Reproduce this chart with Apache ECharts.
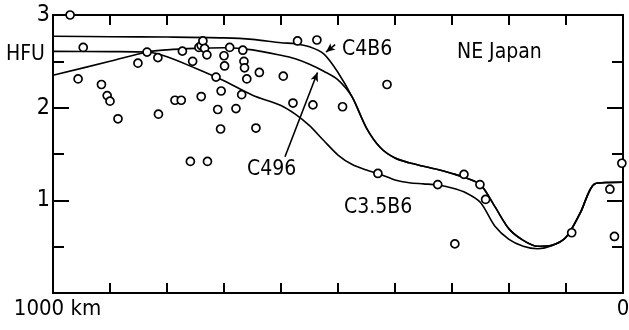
<!DOCTYPE html>
<html>
<head>
<meta charset="utf-8">
<script src="https://cdn.jsdelivr.net/npm/echarts@6/dist/echarts.min.js"></script>
<style>
  html, body { margin: 0; padding: 0; background: #fff; }
  #chart { width: 629px; height: 330px; }
</style>
</head>
<body>
<div id="chart"></div>
<script>
// observed heat flow, distance from trench (km) / HFU
const obsDist = [970, 947, 956, 915, 905, 900, 886, 851, 835, 816, 815, 786, 775, 773, 759, 755,
  744, 740, 737, 734, 730, 740, 729, 714, 711, 705, 706, 700, 699, 690, 679, 669, 667, 665, 664,
  660, 644, 638, 596, 579, 571, 544, 537, 492, 414, 430, 325, 279, 251, 241, 295, 90, 23, 15, 2];
const obsHfu = [3.00, 2.65, 2.31, 2.25, 2.13, 2.07, 1.88, 2.48, 2.60, 2.54, 1.93, 2.08, 2.08, 2.61, 1.42, 2.50,
  2.65, 2.67, 2.72, 2.64, 2.57, 2.12, 1.42, 2.33, 1.98, 2.18, 1.77, 2.56, 2.45, 2.65, 1.99, 2.14, 2.62, 2.50, 2.43,
  2.31, 1.78, 2.38, 2.34, 2.05, 2.72, 2.03, 2.73, 2.01, 2.25, 1.29, 1.17, 1.28, 1.17, 1.01, 0.53, 0.65, 1.12, 0.61, 1.40];

// model curves
const c4b6Dist = [1000, 900, 800, 700, 650, 600, 575, 550, 525, 500, 475, 450, 425, 400, 375, 350, 325, 300,
  275, 250, 225, 200, 175, 150, 125, 100, 75, 50, 25, 0];
const c4b6Hfu = [2.77, 2.766, 2.762, 2.753, 2.737, 2.70, 2.69, 2.657, 2.58, 2.38, 2.113, 1.78, 1.564, 1.456, 1.405, 1.368, 1.333, 1.29,
  1.241, 1.17, 0.935, 0.692, 0.568, 0.504, 0.515, 0.601, 0.864, 1.177, 1.193, 1.195];

const c496Dist = [1000, 900, 835, 800, 750, 700, 650, 600, 575, 550, 525, 500, 475, 450, 425, 400, 375, 350, 325, 300,
  275, 250, 225, 200, 175, 150, 125, 100, 75, 50, 25, 0];
const c496Hfu = [2.35, 2.50, 2.60, 2.624, 2.64, 2.646, 2.624, 2.565, 2.527, 2.468, 2.393, 2.30, 2.113, 1.78, 1.564, 1.456, 1.405, 1.368, 1.333, 1.29,
  1.241, 1.17, 0.935, 0.692, 0.568, 0.504, 0.515, 0.601, 0.864, 1.177, 1.193, 1.195];

const c35b6Dist = [1000, 900, 835, 800, 750, 700, 650, 600, 575, 550, 525, 500, 475, 450, 425, 400, 375, 350, 325, 300,
  275, 250, 225, 200, 175, 150, 125, 100, 75, 50, 25, 0];
const c35b6Hfu = [2.608, 2.605, 2.60, 2.549, 2.425, 2.29, 2.135, 2.024, 1.93, 1.806, 1.645, 1.489, 1.386, 1.327, 1.279, 1.22, 1.19, 1.178, 1.165, 1.133,
  1.08, 0.977, 0.724, 0.579, 0.504, 0.477, 0.51, 0.601, 0.864, 1.177, 1.193, 1.195];

const yTicks = [1, 2, 3];

const font = 'DejaVu Sans Condensed';
function pairs(xs, ys) { return xs.map((x, i) => [x, ys[i]]); }

document.addEventListener('DOMContentLoaded', function() {
  const chart = echarts.init(document.getElementById('chart'));

  const frameX = {
    type: 'value', min: 0, max: 1000, interval: 100, inverse: true,
    axisLine: { onZero: false, lineStyle: { color: '#000', width: 2 } },
    axisTick: { inside: true, length: 10, lineStyle: { color: '#000', width: 2 } },
    splitLine: { show: false }
  };
  const frameY = {
    type: 'value', min: 0, max: 3, interval: 1,
    axisLine: { show: true, onZero: false, lineStyle: { color: '#000', width: 2 } },
    axisTick: { inside: true, length: 16, lineStyle: { color: '#000', width: 2 } },
    minorTick: { show: true, splitNumber: 2, length: 11, lineStyle: { color: '#000', width: 2 } },
    splitLine: { show: false }
  };

  const curveLine = { color: '#000', width: 1.6 };

  const option = {
    animation: false,
    backgroundColor: '#fff',
    grid: { left: 53, right: 6, top: 15, bottom: 37, containLabel: false, outerBoundsMode: 'none' },
    xAxis: [
      Object.assign({}, frameX, {
        position: 'bottom',
        axisLabel: {
          color: '#000', fontFamily: font, fontSize: 22, margin: 5,
          showMinLabel: true, showMaxLabel: true,
          formatter: v => v === 1000 ? '{far|1000 km}' : (v === 0 ? '0' : ''),
          rich: { far: { fontFamily: font, fontSize: 22, color: '#000', padding: [0, 0, 0, 9] } }
        }
      }),
      Object.assign({}, frameX, { position: 'top', axisLabel: { show: false } })
    ],
    yAxis: [
      Object.assign({}, frameY, {
        position: 'left',
        axisLabel: {
          color: '#000', fontFamily: font, fontSize: 23, margin: 3,
          formatter: v => yTicks.includes(v) ? String(v) : ''
        }
      }),
      Object.assign({}, frameY, { position: 'right', axisLabel: { show: false } })
    ],
    series: [
      {
        name: 'C4B6', type: 'line', smooth: 0.3, symbol: 'none',
        lineStyle: curveLine, data: pairs(c4b6Dist, c4b6Hfu), z: 2
      },
      {
        name: 'C496', type: 'line', smooth: 0.3, symbol: 'none',
        lineStyle: curveLine, data: pairs(c496Dist, c496Hfu), z: 2
      },
      {
        name: 'C3.5B6', type: 'line', smooth: 0.3, symbol: 'none',
        lineStyle: curveLine, data: pairs(c35b6Dist, c35b6Hfu), z: 2
      },
      {
        name: 'obs', type: 'scatter', symbol: 'circle', symbolSize: 8,
        itemStyle: { color: '#fff', borderColor: '#000', borderWidth: 1.7, opacity: 1 },
        data: pairs(obsDist, obsHfu), z: 3,
        markLine: {
          silent: true,
          symbolSize: [6, 9],
          lineStyle: { color: '#000', width: 1.6, type: 'solid' },
          label: { show: false },
          data: [
            [{ coord: [593, 1.47], symbol: 'none' }, { coord: [536, 2.38], symbol: 'arrow' }],
            [{ coord: [505, 2.68], symbol: 'none' }, { coord: [521, 2.60], symbol: 'arrow' }]
          ]
        }
      }
    ],
    graphic: [
      { type: 'text', left: 6, top: 44, style: { text: 'HFU', font: '21px "' + font + '"', fill: '#000' } },
      { type: 'text', left: 342, top: 39, style: { text: 'C4B6', font: '21px "' + font + '"', fill: '#000' } },
      { type: 'text', left: 457, top: 42, style: { text: 'NE Japan', font: '21px "' + font + '"', fill: '#000' } },
      { type: 'text', left: 247, top: 159, style: { text: 'C496', font: '21px "' + font + '"', fill: '#000' } },
      { type: 'text', left: 344, top: 197, style: { text: 'C3.5B6', font: '21px "' + font + '"', fill: '#000' } }
    ]
  };
  chart.setOption(option);
});
</script>
</body>
</html>
